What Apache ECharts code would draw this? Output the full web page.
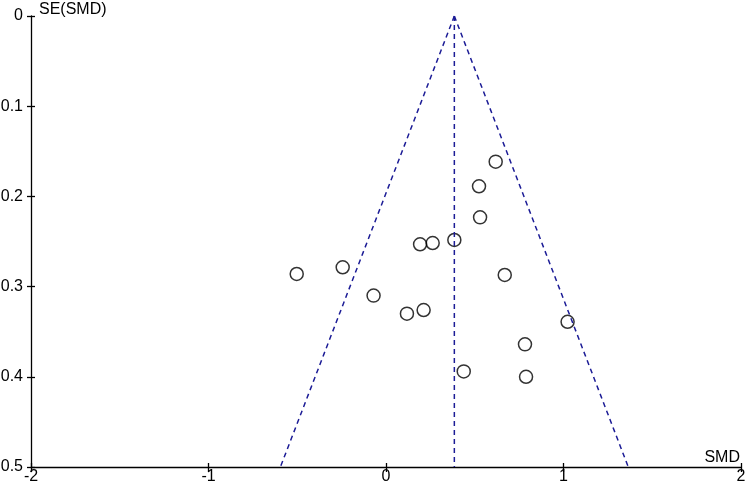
<!DOCTYPE html>
<html><head><meta charset="utf-8">
<script src="https://cdn.jsdelivr.net/npm/echarts@6/dist/echarts.min.js"></script>
<style>html,body{margin:0;padding:0;background:#fff}#c{width:745px;height:492px}</style>
</head><body><div id="c"></div>
<script>
// Study effect sizes (SMD) and their standard errors
const smd = [0.618, 0.524, 0.530, 0.192, 0.263, 0.385, -0.503, -0.244, 0.669, -0.070, 0.118, 0.212, 1.023, 0.783, 0.438, 0.789];
const se  = [0.1615, 0.1888, 0.2232, 0.2531, 0.2517, 0.2483, 0.286, 0.2786, 0.2871, 0.310, 0.330, 0.326, 0.339, 0.364, 0.394, 0.400];
// Pooled estimate and funnel limits
const pooled = 0.385;
const funnelSE = [0, 0.5];
const leftLimit = [0.385, -0.595];
const rightLimit = [0.385, 1.365];
const xTicks = [-2, -1, 0, 1, 2];
const yTicks = [0, 0.1, 0.2, 0.3, 0.4, 0.5];

const font = 'Liberation Sans, Arial, sans-serif';
const fs = 16;
const chart = echarts.init(document.getElementById('c'));
const dashStyle = {color: '#1c1c96', width: 1.5, type: [5, 4]};
const axisCommon = {min: -2, max: 2, interval: 1};
chart.setOption({
  animation: false,
  grid: {left: 31, right: 4, top: 16, bottom: 25, containLabel: false, outerBoundsMode: 'none'},
  xAxis: [{
    type: 'value', ...axisCommon,
    name: 'SMD', nameLocation: 'end', nameGap: -1,
    nameTextStyle: {fontFamily: font, fontSize: fs, color: '#000', align: 'right', verticalAlign: 'bottom', padding: [0, 0, 1, 0]},
    axisLine: {show: true, onZero: false, lineStyle: {color: '#000', width: 1.3}},
    axisTick: {show: true, length: 5, lineStyle: {color: '#000', width: 1.3}},
    axisLabel: {fontFamily: font, fontSize: fs, color: '#000', margin: 2, formatter: v => xTicks.includes(v) ? String(v) : ''},
    splitLine: {show: false}
  }, {
    type: 'value', ...axisCommon, position: 'bottom',
    axisLine: {show: false, onZero: false},
    axisTick: {show: true, inside: true, length: 4, lineStyle: {color: '#000', width: 1.3}},
    axisLabel: {show: false}, splitLine: {show: false}
  }],
  yAxis: [{
    type: 'value', min: 0, max: 0.5, interval: 0.1, inverse: true,
    name: 'SE(SMD)', nameLocation: 'start', nameGap: 6,
    nameTextStyle: {fontFamily: font, fontSize: fs, color: '#000', align: 'left', verticalAlign: 'middle', padding: [0, 0, 0, 8]},
    axisLine: {show: true, onZero: false, lineStyle: {color: '#000', width: 1.3}},
    axisTick: {show: true, length: 4, lineStyle: {color: '#000', width: 1.3}},
    axisLabel: {fontFamily: font, fontSize: fs, color: '#000', margin: 8, formatter: v => yTicks.some(t => Math.abs(t - v) < 1e-9) ? String(Math.round(v * 10) / 10) : ''},
    splitLine: {show: false}
  }, {
    type: 'value', min: 0, max: 0.5, interval: 0.1, inverse: true, position: 'left',
    axisLine: {show: false, onZero: false},
    axisTick: {show: true, inside: true, length: 4, lineStyle: {color: '#000', width: 1.3}},
    axisLabel: {show: false}, splitLine: {show: false}
  }],
  series: [
    {type: 'line', data: funnelSE.map((s, i) => [leftLimit[i], s]), symbol: 'none', lineStyle: dashStyle, silent: true},
    {type: 'line', data: funnelSE.map((s, i) => [rightLimit[i], s]), symbol: 'none', lineStyle: dashStyle, silent: true},
    {type: 'line', data: funnelSE.map(s => [pooled, s]), symbol: 'none', lineStyle: dashStyle, silent: true},
    {type: 'scatter', data: smd.map((x, i) => [x, se[i]]), symbol: 'circle', symbolSize: 13,
     itemStyle: {color: 'rgba(255,255,255,0)', borderColor: '#000', borderWidth: 1.5}}
  ]
});
</script></body></html>
